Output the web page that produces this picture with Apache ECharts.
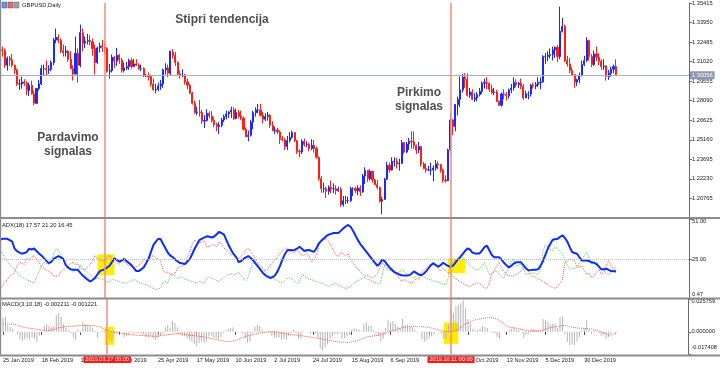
<!DOCTYPE html>
<html><head><meta charset="utf-8">
<script src="https://cdn.jsdelivr.net/npm/echarts@6/dist/echarts.min.js"></script>
<style>html,body{margin:0;padding:0;background:#fff}#c{width:720px;height:368px}</style>
</head><body><div id="c"></div>
<script>
// ---------- DATA (prices stored as price*10000, MACD as value*10000) ----------
const tickLabels = ['25 Jan 2019','18 Feb 2019','12 Mar 2019','3 Apr 2019','25 Apr 2019','17 May 2019','10 Jun 2019','2 Jul 2019','24 Jul 2019','15 Aug 2019','6 Sep 2019','30 Sep 2019','22 Oct 2019','13 Nov 2019','5 Dec 2019','30 Dec 2019'];
const tickStep = 16;
const opens = [
13065,13190,13185,13075,13125,13115,13075,13040,12935,12935,
12950,12940,12885,12925,12860,12790,12900,12935,13050,13050,
13040,13045,13095,13265,13285,13260,13185,13170,13180,13120,
13050,13010,13165,13075,13320,13240,13255,13260,13250,13200,
13095,13205,13220,13210,13200,13030,13035,13135,13105,13150,
13115,13035,13055,13065,13110,13065,13085,13075,13050,13050,
12995,12995,12990,12935,12890,12895,12920,12935,13040,13055,
13015,13175,13150,13095,13010,12995,13000,12950,12925,12865,
12790,12720,12725,12720,12655,12660,12715,12695,12660,12630,
12615,12625,12665,12690,12710,12725,12740,12675,12720,12695,
12680,12595,12540,12550,12650,12720,12740,12740,12700,12670,
12690,12700,12625,12585,12590,12575,12520,12515,12465,12510,
12535,12570,12510,12430,12425,12505,12480,12480,12450,12475,
12450,12385,12225,12150,12150,12130,12160,12150,12150,12135,
12145,12030,12060,12060,12060,12150,12150,12135,12155,12125,
12245,12285,12225,12280,12215,12180,12160,12055,12070,12220,
12325,12290,12355,12355,12335,12340,12495,12425,12485,12505,
12500,12475,12440,12465,12335,12300,12290,12290,12290,12305,
12335,12330,12290,12215,12210,12440,12665,12615,12780,12820,
12890,12985,12970,12850,12875,12820,12830,12855,12880,12940,
12945,12940,12895,12870,12875,12805,12775,12860,12855,12845,
12890,12905,12945,12930,12940,12915,12830,12860,12860,12925,
12920,12930,12945,12950,13140,13140,13150,13155,13190,13210,
13140,13330,13365,13110,13085,13035,13005,12950,12965,13000,
13080,13110,13260,13140,13080,13160,13135,13105,13065,13070,
12990,13015,13045,13065];
const highs = [
13215,13215,13200,13140,13145,13160,13080,13050,12970,12990,
12970,12955,12945,12960,12885,12905,12965,13075,13080,13110,
13075,13110,13280,13350,13305,13275,13230,13220,13190,13180,
13075,13290,13200,13380,13350,13290,13310,13300,13275,13230,
13215,13245,13265,13245,13210,13085,13155,13145,13205,13160,
13130,13095,13100,13125,13130,13120,13120,13090,13080,13060,
13010,13020,13005,12975,12935,12945,12965,13050,13090,13080,
13185,13195,13175,13105,13035,13045,13010,12975,12935,12875,
12810,12765,12815,12740,12700,12745,12730,12730,12685,12645,
12650,12680,12705,12735,12730,12765,12760,12750,12740,12735,
12690,12610,12585,12665,12735,12760,12785,12785,12725,12715,
12725,12710,12655,12615,12605,12585,12545,12530,12545,12575,
12585,12575,12515,12445,12520,12525,12505,12495,12520,12515,
12465,12390,12245,12195,12165,12175,12210,12190,12175,12165,
12160,12095,12095,12090,12165,12160,12165,12175,12175,12260,
12310,12290,12295,12285,12225,12215,12165,12090,12230,12350,
12345,12385,12385,12380,12375,12515,12500,12500,12530,12580,
12580,12480,12500,12470,12350,12340,12320,12345,12325,12365,
12355,12335,12300,12250,12450,12710,12670,12785,12840,12990,
13010,13015,13015,12905,12895,12865,12875,12905,12955,12975,
12985,12945,12930,12905,12890,12810,12870,12895,12875,12900,
12935,12985,12970,12950,12975,12935,12885,12880,12935,12945,
12950,12985,12985,13150,13165,13180,13200,13215,13215,13225,
13514,13430,13380,13145,13130,13060,13010,12975,13020,13110,
13145,13285,13265,13160,13185,13215,13165,13120,13120,13075,
13040,13065,13080,13120];
const lows = [
13060,13140,13055,13035,13070,13060,13010,12920,12890,12900,
12920,12850,12845,12855,12775,12785,12885,12925,13000,13000,
13010,13030,13075,13240,13240,13165,13140,13140,13100,13045,
12960,13005,12945,13060,13180,13205,13230,13225,13145,13005,
13085,13170,13175,13160,13020,12975,13020,13055,13070,13085,
13020,13020,13040,13040,13050,13060,13070,13040,13030,12985,
12985,12960,12915,12885,12865,12880,12890,12905,13005,12985,
13000,13125,13070,12995,12975,12985,12930,12895,12860,12780,
12710,12700,12690,12635,12605,12655,12680,12645,12610,12580,
12560,12610,12650,12670,12680,12680,12665,12670,12680,12665,
12585,12535,12505,12540,12595,12690,12715,12690,12640,12655,
12660,12605,12580,12560,12560,12485,12505,12440,12440,12495,
12525,12500,12410,12385,12410,12465,12460,12430,12440,12420,
12375,12210,12120,12120,12080,12105,12115,12115,12105,12125,
12015,12015,12035,12040,12050,12095,12115,12100,12095,12120,
12185,12200,12210,12195,12175,12145,12045,11958,12065,12215,
12270,12285,12315,12300,12285,12335,12410,12415,12440,12450,
12450,12410,12415,12315,12295,12270,12280,12250,12205,12285,
12295,12270,12195,12195,12205,12420,12550,12580,12700,12760,
12870,12905,12840,12830,12815,12800,12805,12840,12860,12900,
12895,12875,12860,12850,12800,12770,12765,12820,12810,12825,
12865,12885,12910,12905,12895,12815,12830,12820,12840,12900,
12895,12910,12895,12945,13085,13105,13125,13110,13130,13100,
13120,13320,13100,13065,13015,12995,12905,12920,12940,12990,
13070,13100,13110,13060,13070,13105,13075,13040,13040,12960,
12965,12990,13015,13000];
const closes = [
13190,13185,13075,13125,13115,13075,13040,12935,12935,12950,
12940,12885,12925,12860,12790,12900,12935,13050,13050,13040,
13045,13095,13265,13285,13260,13185,13170,13180,13120,13050,
13010,13165,13075,13320,13240,13255,13260,13250,13200,13095,
13205,13220,13210,13200,13030,13035,13135,13105,13150,13115,
13035,13055,13065,13110,13065,13085,13075,13050,13050,12995,
12995,12990,12935,12890,12895,12920,12935,13040,13055,13015,
13180,13150,13095,13010,12995,13000,12950,12925,12865,12790,
12720,12725,12720,12655,12660,12715,12695,12660,12630,12615,
12625,12665,12690,12710,12725,12740,12675,12720,12695,12680,
12595,12540,12550,12650,12720,12740,12740,12700,12670,12690,
12700,12625,12585,12590,12575,12520,12515,12465,12510,12535,
12570,12510,12430,12425,12505,12480,12480,12450,12475,12450,
12385,12225,12150,12150,12130,12160,12150,12150,12135,12145,
12030,12060,12060,12060,12150,12150,12135,12155,12125,12245,
12285,12225,12280,12215,12180,12160,12055,12070,12220,12325,
12290,12355,12355,12335,12340,12495,12425,12485,12505,12500,
12475,12440,12465,12335,12300,12290,12290,12290,12305,12335,
12330,12290,12215,12210,12440,12665,12615,12780,12820,12890,
12985,12970,12850,12875,12820,12830,12855,12880,12940,12945,
12940,12895,12870,12875,12805,12775,12860,12855,12845,12890,
12905,12945,12930,12940,12915,12830,12860,12860,12925,12920,
12930,12945,12950,13140,13140,13150,13155,13190,13210,13140,
13330,13365,13110,13085,13035,13005,12950,12965,13000,13080,
13110,13260,13140,13080,13160,13135,13105,13065,13070,12990,
13015,13045,13065,13005.8];
const adx = [
37.7,38.3,38.3,38.3,37.5,36.6,32,30.5,29.5,28.8,
29.2,30,32,31.5,32.1,30.5,29,27.7,26,24.4,
22.8,23.5,25.5,26.5,27.3,26.5,25.5,21.5,20,18.8,
18.6,18.5,18.4,16.5,14.8,13.5,12.2,11,12,13.3,
15.5,17.7,18.3,18.8,20,21.1,23.5,25.9,24.8,23.7,
24.6,25.5,24,22.8,21.5,19.5,17.7,17.7,18.8,20,
22.7,25.5,30,34.3,36.5,38.3,38,35,32.1,29.3,
27.5,26.6,25,23.8,22.8,22.5,22.2,23.8,25.5,28.8,
32.1,35,37.7,38.5,39.2,39.9,39.6,39.2,39.8,41.3,
42.8,42,41,37.5,34,31,28.5,26.6,23.5,24,
25.5,26.5,27.3,26,24.5,22.5,20.5,18.5,16.5,15,
14,13.3,13.8,15,17.5,21,25,28.5,31,31.2,
31,31.2,32,33.2,32,30.5,31,31.2,30.5,30,
32.5,35.5,37,38.5,40,41,41.5,42,42.1,42.1,
43.5,45,46.2,47.2,46,43.5,40.5,37.5,35,33,
31,29,27,25,23,21.1,22.5,25,24,22,
20,18.5,17,16.2,15.5,15,14.8,14.9,15,16,
17.5,16.5,15.5,15,16,17.5,19.5,21.5,22.6,21.5,
20.5,21.5,23,22,21,20.5,21,23,25,26.6,
28.5,30.5,32.1,31.5,29.5,29,29,29,31,33,
33.9,31,28,26.6,26.5,26.6,25,23,21.5,20,
21,22.5,23.3,23.3,23.3,21.5,19.5,18.2,18.3,18.5,
18.6,18.8,21,24,28,32.1,35,37.7,38,38.3,
39.5,40.6,39,36.6,33,29.9,29.2,28.8,26.5,24.4,
24.4,24.4,24,23.3,23,22.2,20.5,18.8,18.9,19.2,
18.5,17.7,17.6,17.57];
const plusDI = [
31,29,26,24,22,20.5,18.5,16.6,15.5,14,
13,12,11.5,10.5,10,14,17,21,23.3,22.5,
22,23,29,32,31,27.5,25,22.5,20.5,19,
17,19,17.5,21.5,19.5,18,17,15.5,14,12.5,
13.5,13,12.5,12,11,10.5,12.5,12,11.5,11,
10.5,10,10,11,11.5,12.5,11.5,10.5,10,9.5,
9,8.5,7.5,6.5,6,6,7,10.5,11,10,
15,16,14.5,13,14,13.5,12.5,12,11.5,11,
10.5,10,11,10.5,10,13,14,13,12.5,11.5,
11,12.5,13.5,15,15.5,16,15,16,17,15,
13,11.5,14,19,23,22,20.5,19.5,18.8,17,
15.5,14.4,13.5,12.5,11.5,10.5,10,11.5,13,13.3,
12.5,11,10,10.5,15.5,14.5,13.5,12.5,12.2,11.5,
11,10.5,10,9.5,8.5,7.7,8.5,9.5,10,9,
8,7,6.6,7,7.7,9.5,10.5,11.5,12.2,14,
13.3,12.5,12,11,10.5,10,9.5,15,22.2,21,
18.5,17.5,17,16.6,17,18.8,17,16,15,14,
13.3,14,15.5,15,14,13,12.5,12.2,11.5,11,
10.5,10,9.5,9,13,19,23.3,24.5,25,26,
26.6,25,23,21.5,20,19,18.5,18.8,21,23.3,
19,15.5,16,17,17.7,15.5,14,13.3,17,20,
23,25.5,21,21.5,22.2,19,15.5,16,16.5,16.6,
16,15.5,18,29.9,34.3,33,31.5,31,33.2,32,
30.5,28.8,24.4,22,18.8,19.2,19.5,19.9,22,25.5,
27.5,29.9,26,22.2,23.5,23.3,21,19,17.7,16.5,
15.5,16.5,17.7,21.2];
const minusDI = [
6.6,8,11,12,14.4,15.5,17,21,23.3,22.5,
22,26,25,26.5,27.7,25.5,23.5,20.5,19.5,18.5,
17.5,16.5,14.5,14.4,14.5,17.5,18.5,19.5,21,22.5,
23.3,21.5,22.5,19.5,18.8,18.5,20.5,22,24,27.7,
26,25,24.5,24,27,27.7,25,24,23,22,
24.5,23.5,22.5,21,20.5,20,20.5,21.5,22.5,25.5,
25,24.5,26.5,27.7,26.5,25.5,24,18,16.5,17,
15.5,15,16.5,20,21,20.5,22,26.6,30,35,
37.7,36.5,35.5,37,36.5,33,33.5,34.3,34.5,33.2,
36.6,34.5,32.5,31,29.9,28,28.5,27,25.5,27,
29,31.5,32.1,30,27.7,25,22.5,21,19.5,18,
19,21.5,23.3,25,26.5,29,31,32.5,32,31,
29.9,29.5,31,29.5,27.7,28,28.8,27.5,23.3,25,
28,34,38.8,38,38.5,36.6,34,31,27.7,27,
30,28.5,27.5,28.8,25,23,21,19,17.5,15.5,
14.5,15,14,13.3,14.5,16,20,23.3,21,18.5,
18,17.7,16.5,15,13,11,12.5,11.5,10.5,10,
11,13,12.5,16.6,18.5,19.5,21,22,23.3,21,
19.5,17.7,19.5,18,16.5,15.5,14.5,13,12,11,
10,9,8.5,7.7,9,9.5,10,10,8,7,
6.6,10,15.5,18,21,23.3,20,17.5,15.5,15,
14.5,14.4,15.5,16.5,17.7,20,18.8,17.5,15,14.4,
13.5,12.5,12,11,10,9,7.7,7.2,6.6,7.5,
10,12,23.3,24,25.5,25,24.5,20,20.5,21,
18,15.5,16.5,13.3,15,17,18.8,15.5,17,21,
24.4,21,18.8,16.45];
const macdHist = [
110,120,50,35,25,0,-20,-60,-70,-60,
-50,-60,-45,-55,-80,-30,0,50,60,45,
35,45,130,150,120,60,30,15,-10,-45,
-65,20,-10,80,60,55,45,30,10,-45,
-5,10,10,5,-70,-75,-20,-15,5,0,
-40,-35,-25,-5,-20,-10,-10,-20,-20,-40,
-40,-35,-50,-65,-50,-30,-15,40,55,30,
85,70,35,-15,-35,-35,-50,-60,-75,-95,
-115,-90,-75,-85,-75,-35,-30,-40,-50,-55,
-40,-10,10,25,30,35,-5,5,-5,-15,
-55,-85,-75,-10,40,55,45,20,0,0,
5,-30,-50,-45,-45,-60,-55,-65,-35,-10,
15,-10,-55,-55,5,0,-5,-15,-5,-15,
-50,-130,-145,-125,-100,-55,-35,-20,-20,-10,
-55,-50,-35,-25,20,30,20,20,5,60,
80,45,50,10,-15,-30,-75,-55,30,95,
75,85,65,40,30,100,50,55,50,35,
15,-5,0,-60,-75,-65,-50,-35,-20,0,
5,-15,-55,-55,60,180,150,200,210,225,
245,185,100,70,25,10,15,25,45,40,
30,5,-10,-10,-40,-55,0,5,0,20,
25,35,20,15,0,-45,-25,-15,20,20,
15,15,15,100,95,80,60,65,65,30,
115,120,-20,-80,-105,-100,-105,-75,-40,10,
30,90,20,-20,10,5,-10,-30,-25,-55,
-40,-15,0,-22.11];
const macdSignal = [
61,61,61,61,61,56,50,44,38,34,
31,28,25,22,20,17,14,11,8,10,
15,20,28,32,35,38,40,42,44,45,
47,48,49,50,50,50,50,48,45,42,
39,30,20,12,6,3,0,-4,-8,-12,
-15,-18,-22,-24,-25,-26,-27,-28,-29,-30,
-32,-34,-35,-36,-34,-31,-28,-25,-22,-20,
-18,-16,-14,-15,-18,-21,-24,-27,-28,-30,
-32,-35,-38,-42,-44,-48,-52,-56,-60,-64,
-68,-72,-75,-78,-76,-72,-68,-62,-52,-44,
-38,-32,-26,-22,-18,-14,-10,-6,-4,-2,
-1,0,0,-2,-6,-10,-14,-17,-20,-22,
-24,-26,-28,-30,-33,-36,-38,-42,-45,-48,
-51,-54,-58,-61,-65,-68,-72,-75,-78,-80,
-81,-82,-83,-84,-80,-75,-70,-64,-58,-50,
-42,-38,-35,-32,-29,-26,-22,-16,-10,-4,
3,10,16,22,28,34,36,38,40,41,
42,42,41,40,38,36,34,30,25,20,
14,10,5,2,0,3,6,10,20,35,
45,61,70,80,88,94,98,100,104,108,
110,112,110,104,98,88,75,60,42,38,
34,30,28,24,20,16,12,8,6,6,
6,6,8,14,20,28,32,36,40,42,
45,48,50,47,42,37,33,31,29,28,
27,25,24,22,18,13,7,0,-7,-14,
-28,-24,-18,-12.21];
const signalBars = [43, 185];
const signalLabels = ['2019.03.27 00:00', '2019.10.11 00:00'];
const currentPrice = 1.30058;
const priceAxis = {min: 1.19300, max: 1.35415, step: 0.01465};
const adxAxis = [0.47, 25, 51];
const macdAxis = [-0.017408, 0, 0.025759];
const adxBoxes = [[40, 28.4, 47, 15.1], [184, 25.7, 191, 16.4]];
const macdBoxes = [[42, 0.0039, 46, -0.0103], [182, 0.0073, 188, -0.0095]];
const symbol = 'GBPUSD,Daily';

// ---------- CHART ----------
const N = 284; // bars + right-side chart shift
const cats = Array.from({length: N}, (_, i) => 'b' + i);
const kData = closes.map((c, i) => [opens[i] / 1e4, c / 1e4, lows[i] / 1e4, highs[i] / 1e4]);
const hist = macdHist.map(v => v / 1e4);
const sig = macdSignal.map(v => v / 1e4);
const F = '"Liberation Sans", Arial, sans-serif';
const small = {fontSize: 5.7, fontFamily: F, color: '#1a1a1a'};
const last = closes.length - 1;

const vLines = signalBars.map(i => ({xAxis: i}));
const redLine = {color: '#f39486', width: 1.6, type: 'solid'};
const yellow = {color: '#ffee00', opacity: 1};

const chart = echarts.init(document.getElementById('c'), null, {renderer: 'canvas', width: 720, height: 368});
const hidX = (g) => ({type: 'category', gridIndex: g, data: cats, boundaryGap: false, axisLine: {show: false}, axisTick: {show: false}, axisLabel: {show: false}, splitLine: {show: false}});
const yBase = {position: 'right', splitLine: {show: false}, axisLine: {show: true, lineStyle: {color: '#6a6a6a', width: 1}}, axisTick: {show: true, length: 3, lineStyle: {color: '#6a6a6a'}}};

chart.setOption({
  animation: false,
  backgroundColor: '#ffffff',
  grid: [
    {left: 0, top: 2, width: 689, height: 216},
    {left: 0, top: 219, width: 689, height: 79},
    {left: 0, top: 299, width: 689, height: 55}
  ],
  xAxis: [hidX(0), hidX(1), {
    type: 'category', gridIndex: 2, data: cats, boundaryGap: false,
    axisLine: {show: false},
    axisTick: {show: true, length: 3, interval: (i) => i % tickStep === 0 && i / tickStep < tickLabels.length, lineStyle: {color: '#444'}},
    axisLabel: {interval: (i) => i % tickStep === 0 && i / tickStep < tickLabels.length, formatter: (v, i) => tickLabels[i / tickStep] || '', align: 'left', margin: 3, fontSize: 5.6, fontFamily: F, color: '#1a1a1a'},
    splitLine: {show: false}
  }],
  yAxis: [
    Object.assign({}, yBase, {type: 'value', gridIndex: 0, min: priceAxis.min, max: priceAxis.max, interval: priceAxis.step,
      axisLabel: Object.assign({}, small, {margin: 3, showMinLabel: false, formatter: v => v.toFixed(5)})}),
    Object.assign({}, yBase, {type: 'value', gridIndex: 1, min: adxAxis[0], max: adxAxis[2],
      axisTick: {show: true, length: 3, customValues: adxAxis, lineStyle: {color: '#6a6a6a'}},
      axisLabel: Object.assign({}, small, {margin: 3, customValues: adxAxis,
        formatter: v => { const s = v.toFixed(2); if (Math.abs(v - adxAxis[2]) < 1e-6) return '{t|' + s + '}'; if (Math.abs(v - adxAxis[0]) < 1e-6) return '{b|' + s + '}'; return s; },
        rich: {t: Object.assign({}, small, {padding: [4, 0, 0, 0]}), b: Object.assign({}, small, {padding: [0, 0, 8, 0]})}})}),
    Object.assign({}, yBase, {type: 'value', gridIndex: 2, min: macdAxis[0], max: macdAxis[2],
      axisTick: {show: true, length: 3, customValues: macdAxis, lineStyle: {color: '#6a6a6a'}},
      axisLabel: Object.assign({}, small, {margin: 3, customValues: macdAxis,
        formatter: v => { const s = v.toFixed(6); if (Math.abs(v - macdAxis[2]) < 1e-9) return '{t|' + s + '}'; if (Math.abs(v - macdAxis[0]) < 1e-9) return '{b|' + s + '}'; return s; },
        rich: {t: Object.assign({}, small, {padding: [4, 0, 0, 0]}), b: Object.assign({}, small, {padding: [0, 0, 14, 0]})}})})
  ],
  series: [
    {type: 'candlestick', xAxisIndex: 0, yAxisIndex: 0, data: kData, barWidth: 1.6,
      itemStyle: {color: '#1a28ff', color0: '#ff1e12', borderColor: '#1a28ff', borderColor0: '#ff1e12', borderWidth: 1},
      markLine: {symbol: 'none', silent: true, animation: false,
        data: [
          {yAxis: currentPrice, lineStyle: {color: '#a4b1c4', width: 1, type: 'solid'},
            label: {show: true, position: 'end', distance: 1, formatter: currentPrice.toFixed(5), backgroundColor: '#8b98ae', color: '#ffffff', fontSize: 5.7, fontFamily: F, padding: [1, 2, 1, 2]}},
          ...vLines.map(d => Object.assign({}, d, {lineStyle: redLine, label: {show: false}}))
        ]}},
    {type: 'line', xAxisIndex: 1, yAxisIndex: 1, data: plusDI, showSymbol: false, z: 1,
      lineStyle: {color: '#55c955', width: 1, type: 'dotted'},
      markArea: {silent: true, itemStyle: yellow,
        data: adxBoxes.map(b => [{xAxis: b[0], yAxis: b[1]}, {xAxis: b[2], yAxis: b[3]}])}},
    {type: 'line', xAxisIndex: 1, yAxisIndex: 1, data: minusDI, showSymbol: false, z: 3,
      lineStyle: {color: '#ff5a48', width: 1, type: 'dotted'},
      markLine: {symbol: 'none', silent: true, animation: false,
        data: [{yAxis: adxAxis[1], lineStyle: {color: '#bdbdbd', width: 1, type: 'dotted'}, label: {show: false}},
          ...vLines.map(d => Object.assign({}, d, {lineStyle: redLine, label: {show: false}}))]}},
    {type: 'line', xAxisIndex: 1, yAxisIndex: 1, data: adx, showSymbol: false, z: 4,
      lineStyle: {color: '#0b2dff', width: 2}},
    {type: 'line', xAxisIndex: 2, yAxisIndex: 2, data: hist.map(() => null), showSymbol: false, z: 0,
      lineStyle: {opacity: 0},
      markArea: {silent: true, itemStyle: yellow,
        data: macdBoxes.map(b => [{xAxis: b[0], yAxis: b[1]}, {xAxis: b[2], yAxis: b[3]}])}},
    {type: 'bar', xAxisIndex: 2, yAxisIndex: 2, data: hist, barWidth: 1, z: 2,
      itemStyle: {color: '#b4b4b4'}},
    {type: 'line', xAxisIndex: 2, yAxisIndex: 2, data: sig, showSymbol: false, z: 3,
      lineStyle: {color: '#ff5a48', width: 1, type: 'dotted'},
      markLine: {symbol: 'none', silent: true, animation: false,
        data: signalBars.map((b, k) => ({xAxis: b, lineStyle: redLine,
          label: {show: true, position: 'start', distance: 1, formatter: signalLabels[k], backgroundColor: '#ff1a1a', color: '#ffffff', fontSize: 5.6, fontFamily: F, padding: [1, 2, 1, 2]}}))}}
  ],
  graphic: [
    {type: 'rect', z: 100, shape: {x: 0, y: 217, width: 720, height: 2}, style: {fill: '#8c8c8c'}},
    {type: 'rect', z: 100, shape: {x: 0, y: 297.5, width: 720, height: 2}, style: {fill: '#8c8c8c'}},
    {type: 'rect', z: 100, shape: {x: 0, y: 354.5, width: 720, height: 2}, style: {fill: '#8c8c8c'}},
    {type: 'rect', z: 100, shape: {x: 0, y: 0, width: 1.2, height: 356}, style: {fill: '#8c8c8c'}},
    {type: 'rect', z: 100, shape: {x: 2, y: 2, width: 5, height: 6}, style: {fill: '#6f8fd8', stroke: '#3b5bb0', lineWidth: 0.5}},
    {type: 'rect', z: 100, shape: {x: 8, y: 2, width: 5, height: 6}, style: {fill: '#d86f6f', stroke: '#a03b3b', lineWidth: 0.5}},
    {type: 'rect', z: 100, shape: {x: 14, y: 2, width: 5, height: 6}, style: {fill: '#9aa0b0', stroke: '#606878', lineWidth: 0.5}},
    {type: 'text', z: 100, x: 22, y: 5, style: {text: symbol, font: '5.8px ' + F, fill: '#1a1a1a', verticalAlign: 'middle'}},
    {type: 'text', z: 100, x: 2, y: 225, style: {text: 'ADX(18) ' + adx[last].toFixed(2) + ' ' + plusDI[last].toFixed(2) + ' ' + minusDI[last].toFixed(2), font: '5.8px ' + F, fill: '#1a1a1a', verticalAlign: 'middle'}},
    {type: 'text', z: 100, x: 2, y: 304, style: {text: 'MACD(3,10,18) ' + (macdHist[last] / 1e4).toFixed(6) + ' ' + (macdSignal[last] / 1e4).toFixed(6), font: '5.8px ' + F, fill: '#1a1a1a', verticalAlign: 'middle'}},
    {type: 'text', z: 100, x: 222, y: 20, style: {text: 'Stipri tendencija', font: 'bold 12px ' + F, fill: '#4f4f4f', align: 'center', verticalAlign: 'middle'}},
    {type: 'text', z: 100, x: 68, y: 145, style: {text: 'Pardavimo\nsignalas', font: 'bold 12px ' + F, fill: '#4f4f4f', align: 'center', verticalAlign: 'middle', lineHeight: 14}},
    {type: 'text', z: 100, x: 419, y: 100, style: {text: 'Pirkimo\nsignalas', font: 'bold 12px ' + F, fill: '#4f4f4f', align: 'center', verticalAlign: 'middle', lineHeight: 14}}
  ]
});
</script>
</body></html>
